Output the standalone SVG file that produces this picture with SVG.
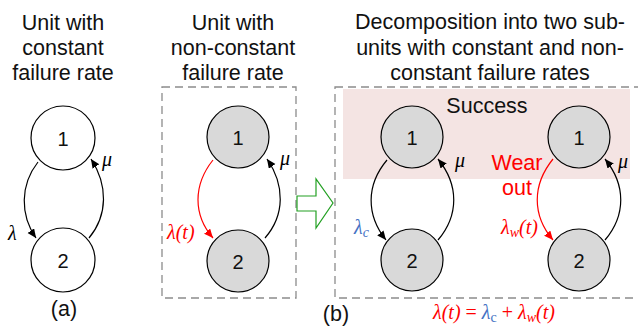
<svg xmlns="http://www.w3.org/2000/svg" width="638" height="327" viewBox="0 0 638 327">
<defs>
<marker id="ahb" markerUnits="userSpaceOnUse" markerWidth="10" markerHeight="10" refX="9" refY="4" orient="auto"><path d="M0,0 L9,4 L0,8 z" fill="#000"/></marker>
<marker id="ahr" markerUnits="userSpaceOnUse" markerWidth="10" markerHeight="10" refX="9" refY="4" orient="auto"><path d="M0,0 L9,4 L0,8 z" fill="#f00"/></marker>
</defs>
<style>
.t{font-family:"Liberation Sans",Arial,sans-serif;font-size:21.5px;text-anchor:middle;fill:#111}
.n{font-family:"Liberation Sans",Arial,sans-serif;font-size:20px;text-anchor:middle;fill:#111}
.m{font-family:"Liberation Serif","Times New Roman",serif;font-style:italic;font-size:20px}
.w{fill:#fff;stroke:#000;stroke-width:1.2}
.g{fill:#d9d9d9;stroke:#000;stroke-width:1.2}
.box{fill:none;stroke:#8c8c8c;stroke-width:1.3;stroke-dasharray:8,5}
.ab{fill:none;stroke:#000;stroke-width:1.2;marker-end:url(#ahb)}
.ar{fill:none;stroke:#f00;stroke-width:1.2;marker-end:url(#ahr)}
</style>
<rect width="638" height="327" fill="#fff"/>
<g id="titles">
<text class="t" x="63" y="30">Unit with</text>
<text class="t" x="63" y="55">constant</text>
<text class="t" x="63" y="80">failure rate</text>
<text class="t" x="233" y="30">Unit with</text>
<text class="t" x="233" y="55">non-constant</text>
<text class="t" x="233" y="80">failure rate</text>
<text class="t" x="490" y="29">Decomposition into two sub-</text>
<text class="t" x="490" y="55">units with constant and non-</text>
<text class="t" x="490" y="80">constant failure rates</text>
<text class="t" x="64" y="316">(a)</text>
<text class="t" x="336" y="321">(b)</text>
</g>
<g id="boxes">
<rect class="box" x="162" y="87" width="134" height="211"/>
<rect x="343" y="89" width="287" height="90" fill="#f4e4e3"/>
<rect class="box" x="335" y="87" width="310" height="211"/>
<text class="t" x="487" y="113">Success</text>
<text class="t" x="517" y="170" style="fill:#f00">Wear</text>
<text class="t" x="517" y="195" style="fill:#f00">out</text>
</g>
<g id="bigarrow">
<path d="M297,196 L316,196 L316,179 L333,203 L316,228 L316,211 L297,211 z" fill="#fff" stroke="#22a022" stroke-width="1.2"/>
</g>
<g id="connectors">
<path class="ab" d="M38,162 C20,185 20,215 36,238"/>
<path class="ab" d="M89,238 C108,215 108,185 91,159"/>
<path class="ar" d="M213,160 C193,185 193,215 213,238"/>
<path class="ab" d="M265,238 C285,215 285,185 267,159"/>
<path class="ab" d="M387,160 C366,185 366,215 386,240"/>
<path class="ab" d="M438,240 C459,215 459,185 438,159"/>
<path class="ar" d="M553,159 C532,185 532,215 553,240"/>
<path class="ab" d="M605,240 C626,215 626,185 605,159"/>
</g>
<g id="labels">
<text class="m" x="8" y="240">λ</text>
<text class="m" x="102" y="166">μ</text>
<text class="m" x="167" y="239" fill="#f00">λ(<tspan>t</tspan>)</text>
<text class="m" x="280" y="165">μ</text>
<text class="m" x="354" y="234" fill="#4472c4">λ<tspan font-size="14" dy="3">c</tspan></text>
<text class="m" x="455" y="167">μ</text>
<text class="m" x="501" y="234" fill="#f00">λ<tspan font-size="14" dy="3">w</tspan><tspan dy="-3">(t)</tspan></text>
<text class="m" x="618" y="168">μ</text>
<text class="m" x="433" y="319" fill="#f00">λ(t) <tspan font-style="normal">=</tspan> <tspan fill="#4472c4">λ<tspan font-size="14" dy="3" font-style="normal">c</tspan></tspan><tspan dy="-3" font-style="normal"> + </tspan>λ<tspan font-size="14" dy="3">w</tspan><tspan dy="-3">(t)</tspan></text>
</g>
<g id="n_a1"><circle class="w" cx="63" cy="138" r="32"/><text class="n" x="63" y="146">1</text></g>
<g id="n_a2"><circle class="w" cx="63" cy="260" r="32"/><text class="n" x="63" y="268">2</text></g>
<g id="n_b1"><circle class="g" cx="238" cy="137" r="31"/><text class="n" x="238" y="145">1</text></g>
<g id="n_b2"><circle class="g" cx="238" cy="261" r="31"/><text class="n" x="238" y="269">2</text></g>
<g id="n_c1"><circle class="g" cx="412" cy="137" r="31"/><text class="n" x="412" y="145">1</text></g>
<g id="n_c2"><circle class="g" cx="412" cy="260" r="31"/><text class="n" x="412" y="268">2</text></g>
<g id="n_d1"><circle class="g" cx="579" cy="137" r="31"/><text class="n" x="579" y="145">1</text></g>
<g id="n_d2"><circle class="g" cx="579" cy="260" r="31"/><text class="n" x="579" y="268">2</text></g>
</svg>
